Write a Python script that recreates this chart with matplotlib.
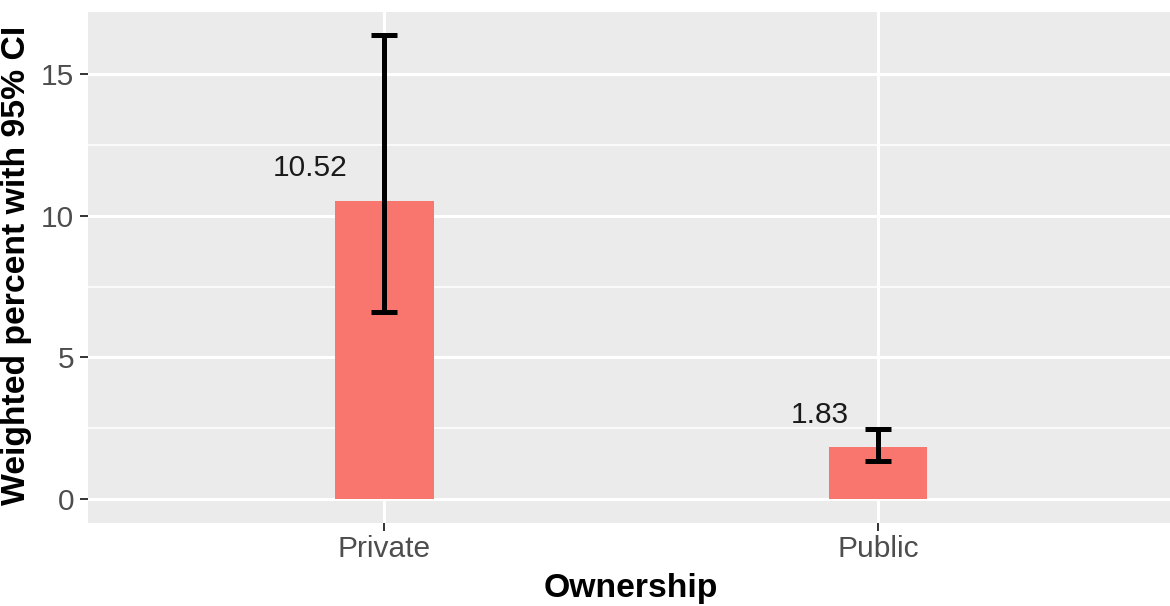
import matplotlib
matplotlib.use("Agg")
import matplotlib.pyplot as plt
from matplotlib.transforms import ScaledTranslation
from matplotlib.ticker import MultipleLocator

# ---- data ----
categories = ["Private", "Public"]
percent = [10.52, 1.83]
ci_lower = [6.60, 1.36]
ci_upper = [16.37, 2.47]
value_labels = ["10.52", "1.83"]
y_ticks = [0, 5, 10, 15]

# ---- style ----
W, H, DPI = 1170, 606, 100
bar_color = "#F8766D"
panel_bg = "#EBEBEB"
plt.rcParams["font.family"] = ["Liberation Sans", "DejaVu Sans"]

fig = plt.figure(figsize=(W / DPI, H / DPI), dpi=DPI)
left, right = 88.3 / W, 1174 / W
bottom, top = (H - 522.6) / H, (H - 11.6) / H
ax = fig.add_axes([left, bottom, right - left, top - bottom])
ax.set_facecolor(panel_bg)
for s in ax.spines.values():
    s.set_visible(False)

x = list(range(1, len(categories) + 1))

# grid
ax.yaxis.set_major_locator(MultipleLocator(5))
ax.yaxis.set_minor_locator(MultipleLocator(2.5))
ax.grid(which="major", axis="both", color="white", linewidth=2.2)
ax.grid(which="minor", axis="y", color="white", linewidth=1.1)
ax.set_axisbelow(True)

ax.bar(x, percent, width=0.2, color=bar_color, zorder=2)
err_lo = [p - l for p, l in zip(percent, ci_lower)]
err_hi = [u - p for p, u in zip(percent, ci_upper)]
ax.errorbar(x, percent, yerr=[err_lo, err_hi], fmt="none", ecolor="black",
            elinewidth=3.6, capsize=9.4, capthick=3.6, zorder=3)

# limits (ggplot-like expansion)
rng = max(ci_upper) - 0
ax.set_ylim(0 - 0.05 * rng, max(ci_upper) + 0.05 * rng)
ax.set_xlim(0.4, len(categories) + 0.6)

ax.set_xticks(x)
ax.set_xticklabels(categories)
ax.set_yticks(y_ticks)
ax.tick_params(axis="both", which="major", length=5.8, width=1.4, color="#333333",
               labelcolor="#4D4D4D", labelsize=21.5)
ax.tick_params(axis="y", which="major", pad=4.5)
ax.tick_params(axis="x", which="major", pad=3)
ax.tick_params(axis="y", which="minor", length=0)

# value labels (hjust ~1.5 style)
texts = []
for xi, p, lab in zip(x, percent, value_labels):
    t = ax.text(xi, p + 1.15, lab, ha="right", va="center", fontsize=21.5,
                color="#1a1a1a", zorder=4)
    texts.append(t)
fig.canvas.draw()
r = fig.canvas.get_renderer()
for t in texts:
    w = t.get_window_extent(r).width
    t.set_transform(ax.transData + ScaledTranslation(-0.5 * w / DPI, 0, fig.dpi_scale_trans))

fig.text(631 / W, (H - 597) / H, "Ownership", ha="center", va="baseline",
         fontsize=24.3, fontweight="bold", color="black")
fig.text(17 / W, 1 - 265 / H, "Weighted percent with 95% CI", rotation=90,
         ha="center", va="center", fontsize=24.3, fontweight="bold", color="black")

fig.savefig("out.png", dpi=DPI, facecolor="white")
